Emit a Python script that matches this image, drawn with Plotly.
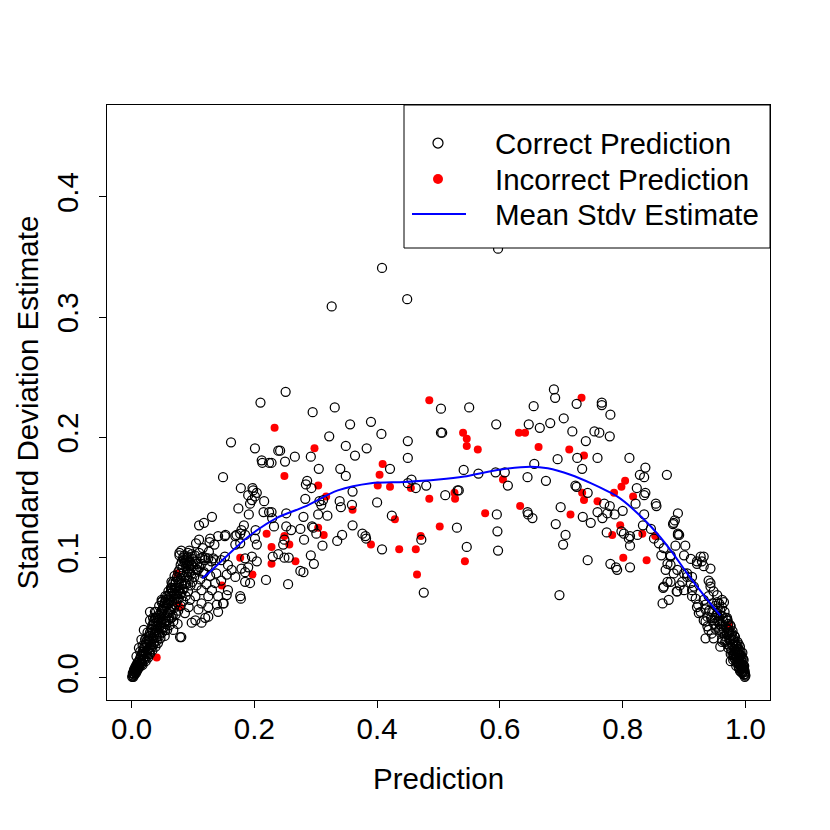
import plotly.graph_objects as go

# open black circles: predictions that were correct (prediction, stdv estimate)
correct = [
    (0.326, 0.309), (0.408, 0.341), (0.449, 0.315), (0.597, 0.357),
    # left shoulder
    (0.210, 0.229), (0.162, 0.196), (0.201, 0.191), (0.239, 0.189), (0.212, 0.181),
    (0.213, 0.179), (0.224, 0.179), (0.149, 0.167), (0.178, 0.158), (0.197, 0.158),
    (0.198, 0.156), (0.190, 0.152), (0.196, 0.148), (0.204, 0.154), (0.201, 0.151),
    (0.193, 0.145), (0.174, 0.141), (0.216, 0.147), (0.215, 0.138), (0.224, 0.138),
    (0.229, 0.133), (0.191, 0.136), (0.131, 0.134), (0.110, 0.127), (0.118, 0.129),
    (0.183, 0.127), (0.179, 0.123), (0.202, 0.123), (0.232, 0.126), (0.141, 0.118),
    (0.153, 0.119), (0.169, 0.118), (0.177, 0.120), (0.128, 0.116), (0.135, 0.111),
    (0.152, 0.118), (0.171, 0.119), (0.185, 0.119), (0.169, 0.111), (0.177, 0.112),
    (0.201, 0.116), (0.204, 0.111), (0.078, 0.104), (0.093, 0.101), (0.095, 0.097),
    (0.112, 0.0995), (0.125, 0.0995), (0.136, 0.098), (0.152, 0.101), (0.185, 0.0995),
    (0.196, 0.101), (0.204, 0.097), (0.190, 0.092), (0.179, 0.091), (0.185, 0.088),
    (0.219, 0.0815), (0.185, 0.080), (0.193, 0.079), (0.169, 0.084), (0.163, 0.090),
    (0.155, 0.086), (0.155, 0.069), (0.150, 0.062), (0.139, 0.061), (0.177, 0.068),
    (0.178, 0.066), (0.120, 0.050), (0.104, 0.048), (0.079, 0.034), (0.030, 0.055),
    (0.030, 0.048), (0.049, 0.065), (0.055, 0.062), (0.066, 0.075), (0.063, 0.070),
    (0.106, 0.090), (0.117, 0.087), (0.098, 0.094), (0.131, 0.073), (0.141, 0.068),
    (0.136, 0.079), (0.125, 0.068), (0.114, 0.073), (0.104, 0.068), (0.093, 0.059),
    (0.087, 0.054), (0.109, 0.057), (0.125, 0.059), (0.114, 0.062), (0.119, 0.098),
    (0.133, 0.0995), (0.146, 0.098), (0.157, 0.094), (0.138, 0.087), (0.146, 0.081),
    (0.157, 0.073), (0.149, 0.062), (0.141, 0.055), (0.125, 0.051), (0.114, 0.046),
    (0.098, 0.046), (0.081, 0.106), (0.092, 0.104), (0.078, 0.102), (0.127, 0.113),
    (0.081, 0.034), (0.065, 0.073), (0.049, 0.063), (0.038, 0.055),
    # dense lower-left band
    (0.001, 0.001), (0.002, 0.002), (0.003, 0.004), (0.004, 0.003), (0.005, 0.006),
    (0.006, 0.005), (0.007, 0.008), (0.008, 0.007), (0.009, 0.010), (0.010, 0.009),
    (0.002, 0.004), (0.004, 0.007), (0.006, 0.009), (0.008, 0.011), (0.010, 0.013),
    (0.003, 0.001), (0.005, 0.003), (0.007, 0.004), (0.009, 0.006), (0.011, 0.008),
    (0.012, 0.010), (0.013, 0.015), (0.014, 0.012), (0.015, 0.018), (0.016, 0.014),
    (0.017, 0.020), (0.018, 0.011), (0.019, 0.016), (0.020, 0.022), (0.021, 0.018),
    (0.022, 0.025), (0.023, 0.014), (0.024, 0.020), (0.025, 0.028), (0.026, 0.023),
    (0.027, 0.017), (0.028, 0.031), (0.029, 0.025), (0.030, 0.020), (0.030, 0.035),
    (0.014, 0.022), (0.018, 0.027), (0.022, 0.032), (0.026, 0.038), (0.024, 0.033),
    (0.032, 0.028), (0.033, 0.040), (0.034, 0.023), (0.035, 0.033), (0.036, 0.045),
    (0.037, 0.030), (0.038, 0.038), (0.039, 0.026), (0.040, 0.042), (0.041, 0.034),
    (0.042, 0.048), (0.043, 0.029), (0.044, 0.038), (0.045, 0.052), (0.046, 0.043),
    (0.047, 0.033), (0.048, 0.046), (0.049, 0.056), (0.050, 0.038), (0.051, 0.049),
    (0.052, 0.042), (0.053, 0.058), (0.054, 0.035), (0.055, 0.051), (0.056, 0.045),
    (0.057, 0.060), (0.058, 0.040), (0.059, 0.054), (0.060, 0.048), (0.035, 0.050),
    (0.040, 0.055), (0.045, 0.060), (0.050, 0.064), (0.061, 0.062), (0.062, 0.044),
    (0.063, 0.055), (0.064, 0.068), (0.065, 0.050), (0.066, 0.060), (0.067, 0.072),
    (0.068, 0.047), (0.069, 0.058), (0.070, 0.066), (0.071, 0.078), (0.072, 0.053),
    (0.073, 0.063), (0.074, 0.070), (0.075, 0.082), (0.076, 0.056), (0.077, 0.066),
    (0.078, 0.075), (0.079, 0.087), (0.080, 0.060), (0.081, 0.070), (0.082, 0.079),
    (0.083, 0.092), (0.084, 0.064), (0.085, 0.074), (0.086, 0.084), (0.087, 0.096),
    (0.088, 0.068), (0.089, 0.078), (0.090, 0.088), (0.091, 0.100), (0.092, 0.072),
    (0.093, 0.082), (0.094, 0.091), (0.095, 0.065), (0.096, 0.077), (0.097, 0.086),
    (0.098, 0.103), (0.099, 0.080), (0.100, 0.093), (0.068, 0.040), (0.075, 0.045),
    (0.102, 0.084), (0.104, 0.097), (0.106, 0.077), (0.108, 0.090), (0.110, 0.104),
    (0.112, 0.082), (0.114, 0.095), (0.116, 0.108), (0.118, 0.088), (0.120, 0.100),
    (0.122, 0.078), (0.124, 0.093), (0.126, 0.105), (0.128, 0.085), (0.130, 0.097),
    (0.105, 0.112), (0.110, 0.115),
    (0.003, 0.002), (0.005, 0.005), (0.007, 0.006), (0.009, 0.008), (0.011, 0.011),
    (0.013, 0.009), (0.015, 0.013), (0.017, 0.012), (0.019, 0.019), (0.021, 0.015),
    (0.023, 0.021), (0.025, 0.018), (0.027, 0.024), (0.029, 0.021), (0.031, 0.030),
    (0.033, 0.026), (0.035, 0.038), (0.037, 0.036), (0.039, 0.046), (0.041, 0.040),
    (0.043, 0.050), (0.045, 0.035), (0.047, 0.054), (0.049, 0.042), (0.051, 0.058),
    (0.053, 0.046), (0.055, 0.040), (0.057, 0.052), (0.059, 0.062), (0.061, 0.050),
    (0.063, 0.065), (0.065, 0.057), (0.067, 0.052), (0.069, 0.070), (0.071, 0.061),
    (0.073, 0.075), (0.075, 0.066), (0.077, 0.079), (0.079, 0.070), (0.081, 0.083),
    (0.083, 0.074), (0.085, 0.088), (0.087, 0.079), (0.089, 0.093), (0.091, 0.084),
    (0.093, 0.097), (0.095, 0.088), (0.097, 0.094), (0.099, 0.099), (0.101, 0.090),
    (0.103, 0.102), (0.107, 0.095), (0.111, 0.092), (0.115, 0.100), (0.070, 0.085),
    (0.065, 0.080), (0.060, 0.072), (0.055, 0.068), (0.085, 0.098), (0.094, 0.106),
    (0.020, 0.040), (0.016, 0.032), (0.012, 0.025), (0.008, 0.018),
    (0.004, 0.005), (0.006, 0.007), (0.008, 0.009), (0.012, 0.013), (0.014, 0.016),
    (0.016, 0.019), (0.018, 0.022), (0.020, 0.025), (0.022, 0.028), (0.024, 0.030),
    (0.026, 0.032), (0.028, 0.035), (0.030, 0.038), (0.032, 0.041), (0.034, 0.044),
    (0.036, 0.047), (0.038, 0.050), (0.040, 0.050), (0.042, 0.044), (0.044, 0.046),
    (0.046, 0.050), (0.048, 0.052), (0.050, 0.055), (0.052, 0.060), (0.054, 0.063),
    (0.056, 0.065), (0.058, 0.068), (0.060, 0.066), (0.062, 0.070), (0.064, 0.075),
    (0.066, 0.078), (0.068, 0.080), (0.070, 0.075), (0.072, 0.080), (0.074, 0.084),
    (0.076, 0.088), (0.078, 0.090), (0.080, 0.094), (0.082, 0.097), (0.084, 0.100),
    (0.086, 0.102), (0.088, 0.098), (0.090, 0.096), (0.092, 0.094), (0.031, 0.024),
    (0.036, 0.028), (0.041, 0.031), (0.046, 0.037), (0.051, 0.041), (0.056, 0.047),
    (0.061, 0.056), (0.066, 0.064), (0.071, 0.069), (0.076, 0.072), (0.081, 0.078),
    # middle
    (0.251, 0.238), (0.295, 0.221), (0.331, 0.225), (0.356, 0.211), (0.390, 0.213),
    (0.322, 0.201), (0.407, 0.203), (0.450, 0.197), (0.504, 0.204), (0.504, 0.224),
    (0.242, 0.189), (0.349, 0.193), (0.383, 0.191), (0.250, 0.180), (0.266, 0.184),
    (0.292, 0.184), (0.364, 0.185), (0.450, 0.183), (0.228, 0.179), (0.305, 0.174),
    (0.340, 0.174), (0.421, 0.174), (0.349, 0.168), (0.286, 0.164), (0.284, 0.161),
    (0.293, 0.158), (0.450, 0.162), (0.456, 0.165), (0.463, 0.158), (0.480, 0.160),
    (0.360, 0.155), (0.283, 0.149), (0.312, 0.148), (0.309, 0.144), (0.306, 0.147),
    (0.339, 0.147), (0.341, 0.142), (0.359, 0.144), (0.400, 0.146), (0.252, 0.137),
    (0.304, 0.136), (0.319, 0.135), (0.280, 0.134), (0.424, 0.135), (0.228, 0.138),
    (0.294, 0.126), (0.296, 0.125), (0.360, 0.127), (0.252, 0.126), (0.260, 0.123),
    (0.275, 0.124), (0.301, 0.120), (0.343, 0.119), (0.376, 0.120), (0.381, 0.118),
    (0.335, 0.114), (0.382, 0.116), (0.408, 0.107), (0.472, 0.115), (0.476, 0.071),
    (0.281, 0.115), (0.311, 0.110), (0.249, 0.115), (0.247, 0.111), (0.230, 0.101),
    (0.239, 0.103), (0.249, 0.100), (0.256, 0.100), (0.292, 0.102), (0.297, 0.095),
    (0.275, 0.089), (0.280, 0.088), (0.255, 0.078),
    # right half
    (0.688, 0.240), (0.690, 0.233), (0.725, 0.228), (0.766, 0.229), (0.766, 0.227),
    (0.550, 0.225), (0.655, 0.226), (0.594, 0.211), (0.647, 0.211), (0.682, 0.212),
    (0.704, 0.216), (0.665, 0.208), (0.718, 0.205), (0.754, 0.205), (0.762, 0.204),
    (0.506, 0.204), (0.740, 0.197), (0.726, 0.183), (0.759, 0.183), (0.694, 0.182),
    (0.656, 0.178), (0.734, 0.174), (0.541, 0.173), (0.565, 0.170), (0.593, 0.171),
    (0.608, 0.171), (0.613, 0.160), (0.645, 0.167), (0.675, 0.164), (0.723, 0.160),
    (0.725, 0.159), (0.743, 0.154), (0.531, 0.156), (0.533, 0.156), (0.511, 0.152),
    (0.595, 0.136), (0.645, 0.138), (0.646, 0.136), (0.653, 0.133), (0.699, 0.142),
    (0.735, 0.134), (0.759, 0.138), (0.748, 0.129), (0.691, 0.128), (0.530, 0.125),
    (0.596, 0.122), (0.707, 0.119), (0.703, 0.111), (0.546, 0.109), (0.597, 0.106),
    (0.743, 0.098), (0.697, 0.069),
    (0.780, 0.219), (0.779, 0.201), (0.811, 0.183), (0.837, 0.175), (0.828, 0.169),
    (0.835, 0.167), (0.872, 0.169), (0.823, 0.158), (0.837, 0.154), (0.835, 0.152),
    (0.821, 0.145), (0.770, 0.145), (0.779, 0.143), (0.775, 0.137), (0.767, 0.133),
    (0.787, 0.136), (0.800, 0.139), (0.854, 0.145), (0.855, 0.143), (0.835, 0.136),
    (0.890, 0.137), (0.885, 0.131), (0.882, 0.128), (0.833, 0.127), (0.798, 0.122),
    (0.846, 0.124), (0.774, 0.121), (0.812, 0.118), (0.824, 0.119), (0.890, 0.119),
    (0.812, 0.110), (0.780, 0.095), (0.789, 0.092), (0.791, 0.090), (0.812, 0.092),
    (0.802, 0.120), (0.810, 0.116),
    # right band
    (0.851, 0.116), (0.859, 0.112), (0.863, 0.102), (0.886, 0.110), (0.902, 0.110),
    (0.878, 0.102), (0.883, 0.129), (0.892, 0.119), (0.867, 0.108), (0.878, 0.101),
    (0.900, 0.102), (0.873, 0.095), (0.878, 0.094), (0.870, 0.090), (0.883, 0.087),
    (0.889, 0.090), (0.927, 0.101), (0.929, 0.097), (0.921, 0.095), (0.932, 0.093),
    (0.943, 0.091), (0.900, 0.087), (0.905, 0.084), (0.897, 0.080), (0.911, 0.079),
    (0.867, 0.076), (0.873, 0.080), (0.889, 0.072), (0.865, 0.062), (0.875, 0.065),
    (0.900, 0.073), (0.916, 0.076), (0.913, 0.073), (0.940, 0.081), (0.943, 0.076),
    (0.948, 0.072), (0.954, 0.069), (0.940, 0.068), (0.932, 0.065), (0.919, 0.066),
    (0.921, 0.059), (0.924, 0.054), (0.935, 0.057), (0.946, 0.062), (0.954, 0.063),
    (0.962, 0.065), (0.932, 0.048), (0.938, 0.043), (0.946, 0.048), (0.954, 0.054),
    (0.970, 0.050), (0.962, 0.045), (0.951, 0.041), (0.935, 0.033), (0.957, 0.040),
    (0.962, 0.032), (0.959, 0.026), (0.976, 0.043), (0.973, 0.037), (0.976, 0.014),
    (0.913, 0.068), (0.923, 0.061), (0.927, 0.055), (0.935, 0.061), (0.965, 0.063),
    (0.962, 0.059), (0.946, 0.055), (0.938, 0.051), (0.935, 0.047), (0.954, 0.047),
    (0.959, 0.041), (0.948, 0.033), (0.962, 0.030), (0.970, 0.048), (0.932, 0.101),
    (0.911, 0.099), (0.921, 0.097), (0.905, 0.087), (0.913, 0.084), (0.943, 0.079),
    (0.888, 0.072), (0.893, 0.077), (0.866, 0.075), (0.878, 0.080), (0.890, 0.120),
    # dense lower-right tail
    (0.950, 0.050), (0.955, 0.058), (0.958, 0.045), (0.960, 0.052), (0.962, 0.038),
    (0.964, 0.047), (0.966, 0.055), (0.967, 0.030), (0.968, 0.042), (0.970, 0.036),
    (0.971, 0.048), (0.972, 0.025), (0.973, 0.040), (0.974, 0.032), (0.975, 0.044),
    (0.976, 0.020), (0.977, 0.035), (0.978, 0.028), (0.979, 0.039), (0.980, 0.015),
    (0.981, 0.031), (0.982, 0.024), (0.983, 0.034), (0.984, 0.018), (0.985, 0.027),
    (0.986, 0.021), (0.987, 0.030), (0.988, 0.012), (0.989, 0.024), (0.990, 0.017),
    (0.991, 0.026), (0.992, 0.010), (0.993, 0.019), (0.994, 0.014), (0.995, 0.021),
    (0.996, 0.008), (0.997, 0.015), (0.998, 0.010), (0.999, 0.005), (1.000, 0.002),
    (0.999, 0.001), (0.998, 0.003), (0.997, 0.006), (0.996, 0.011), (0.995, 0.004),
    (0.994, 0.008), (0.993, 0.012), (0.992, 0.015), (0.991, 0.006), (0.990, 0.020),
    (0.989, 0.009), (0.988, 0.022), (0.987, 0.014), (0.986, 0.026), (0.985, 0.010),
    (0.984, 0.023), (0.983, 0.016), (0.982, 0.029), (0.981, 0.020), (0.980, 0.033),
    (0.951, 0.060), (0.953, 0.052), (0.956, 0.048), (0.957, 0.062), (0.959, 0.056),
    (0.961, 0.043), (0.963, 0.051), (0.965, 0.040), (0.966, 0.035), (0.968, 0.050),
    (0.969, 0.031), (0.970, 0.041), (0.971, 0.028), (0.972, 0.045), (0.974, 0.038),
    (0.975, 0.026), (0.976, 0.033), (0.977, 0.023), (0.978, 0.037), (0.979, 0.019),
    (0.980, 0.028), (0.981, 0.017), (0.982, 0.035), (0.983, 0.021), (0.984, 0.029),
    (0.985, 0.013), (0.986, 0.017), (0.987, 0.024), (0.988, 0.016), (0.989, 0.028),
    (0.990, 0.012), (0.991, 0.019), (0.992, 0.022), (0.993, 0.008), (0.994, 0.017),
    (0.995, 0.011), (0.996, 0.016), (0.997, 0.009), (0.998, 0.007), (0.999, 0.003),
    (0.997, 0.003), (0.996, 0.005), (0.993, 0.005), (0.990, 0.008), (0.944, 0.050),
    (0.941, 0.056), (0.949, 0.045), (0.945, 0.037), (0.940, 0.040),
]

# filled red dots: incorrect predictions
incorrect = [
    (0.041, 0.017), (0.074, 0.087), (0.076, 0.061), (0.079, 0.059), (0.147, 0.077),
    (0.177, 0.100), (0.197, 0.086), (0.220, 0.120), (0.228, 0.109), (0.228, 0.095),
    (0.233, 0.208), (0.298, 0.191), (0.249, 0.168), (0.304, 0.160), (0.317, 0.151),
    (0.360, 0.140), (0.429, 0.132), (0.304, 0.125), (0.313, 0.119), (0.249, 0.118),
    (0.257, 0.111), (0.267, 0.097), (0.390, 0.111), (0.436, 0.107), (0.463, 0.107),
    (0.471, 0.118), (0.465, 0.086), (0.409, 0.178), (0.404, 0.169), (0.401, 0.160),
    (0.421, 0.159), (0.455, 0.158), (0.485, 0.149), (0.485, 0.231), (0.502, 0.126),
    (0.733, 0.233), (0.631, 0.204), (0.641, 0.204), (0.540, 0.204), (0.546, 0.199),
    (0.546, 0.193), (0.564, 0.190), (0.663, 0.192), (0.713, 0.190), (0.737, 0.185),
    (0.605, 0.165), (0.734, 0.154), (0.737, 0.148), (0.759, 0.147), (0.526, 0.154),
    (0.527, 0.149), (0.633, 0.143), (0.576, 0.137), (0.715, 0.136), (0.543, 0.097),
    (0.804, 0.164), (0.798, 0.159), (0.786, 0.154), (0.817, 0.151), (0.796, 0.127),
    (0.783, 0.119), (0.832, 0.120), (0.853, 0.118), (0.801, 0.100), (0.839, 0.098),
    (0.973, 0.043),
]

# mean stdv estimate curve
curve_x = [0.115, 0.125, 0.150, 0.190, 0.236, 0.282, 0.336, 0.390, 0.444, 0.500,
           0.542, 0.596, 0.650, 0.678, 0.715, 0.748, 0.791, 0.818, 0.846, 0.878,
           0.905, 0.932, 0.959]
curve_y = [0.083, 0.087, 0.099, 0.1175, 0.133, 0.1425, 0.156, 0.162, 0.163, 0.165,
           0.1675, 0.173, 0.1757, 0.1744, 0.169, 0.162, 0.151, 0.140, 0.126, 0.1064,
           0.087, 0.069, 0.052]

x_ticks = [0.0, 0.2, 0.4, 0.6, 0.8, 1.0]
y_ticks = [0.0, 0.1, 0.2, 0.3, 0.4]

FONT = "Liberation Sans, Arial, Helvetica, sans-serif"
FS = 29.5

fig = go.Figure()

# red first, so the dense black clusters partly cover them as in the original
fig.add_trace(go.Scatter(
    x=[p[0] for p in incorrect], y=[p[1] for p in incorrect],
    mode="markers", name="Incorrect Prediction",
    marker=dict(symbol="circle", size=8, color="#ff0000"),
))
fig.add_trace(go.Scatter(
    x=[p[0] for p in correct], y=[p[1] for p in correct],
    mode="markers", name="Correct Prediction",
    marker=dict(symbol="circle-open", size=9, color="black", line=dict(width=1.25)),
))
fig.add_trace(go.Scatter(
    x=curve_x, y=curve_y, mode="lines", name="Mean Stdv Estimate",
    line=dict(color="#0000ff", width=2, shape="spline", smoothing=0.8),
))

# --- hand drawn legend box (R style); pixel positions are screen pixels ---
def px_x(p):
    return (p - 107) / 663

def px_y(p):
    return (700 - p) / 595

fig.add_shape(type="rect", xref="paper", yref="paper",
              x0=px_x(404), x1=1, y0=px_y(248), y1=1,
              line=dict(color="black", width=1), fillcolor="white", layer="above")
fig.add_shape(type="circle", xref="paper", yref="paper",
              xsizemode="pixel", ysizemode="pixel",
              xanchor=px_x(438), yanchor=px_y(143),
              x0=-5, x1=5, y0=-5, y1=5,
              line=dict(color="black", width=1.25), layer="above")
fig.add_shape(type="circle", xref="paper", yref="paper",
              xsizemode="pixel", ysizemode="pixel",
              xanchor=px_x(438), yanchor=px_y(179),
              x0=-5, x1=5, y0=-5, y1=5,
              line=dict(color="#ff0000", width=0), fillcolor="#ff0000", layer="above")
fig.add_shape(type="line", xref="paper", yref="paper",
              x0=px_x(412), x1=px_x(466), y0=px_y(214), y1=px_y(214),
              line=dict(color="#0000ff", width=2), layer="above")
for label, yy in [("Correct Prediction", 143), ("Incorrect Prediction", 179),
                  ("Mean Stdv Estimate", 214)]:
    fig.add_annotation(x=px_x(493), y=px_y(yy), xref="paper", yref="paper",
                       text=label, showarrow=False, xanchor="left", yanchor="middle",
                       font=dict(size=FS, color="black", family=FONT))

# axis titles
fig.add_annotation(x=0.5, y=px_y(778), xref="paper", yref="paper", text="Prediction",
                   showarrow=False, xanchor="center", yanchor="middle",
                   font=dict(size=FS, color="black", family=FONT))
fig.add_annotation(x=px_x(27), y=0.5, xref="paper", yref="paper",
                   text="Standard Deviation Estimate", textangle=-90,
                   showarrow=False, xanchor="center", yanchor="middle",
                   font=dict(size=FS, color="black", family=FONT))

# the page body adds an 8px offset, so margins are trimmed by 8 on left/top
fig.update_layout(
    width=830, height=830,
    margin=dict(l=99, r=68, t=97, b=138),
    paper_bgcolor="white", plot_bgcolor="white",
    showlegend=False,
    font=dict(family=FONT, size=FS, color="black"),
)
fig.update_xaxes(
    range=[-0.04, 1.04], tickvals=x_ticks, ticktext=[f"{v:.1f}" for v in x_ticks],
    ticks="outside", ticklen=7, tickwidth=1, tickcolor="black", ticklabelstandoff=-4,
    showline=True, mirror=True, linecolor="black", linewidth=1,
    showgrid=False, zeroline=False, tickfont=dict(size=FS),
)
fig.update_yaxes(
    range=[-0.0183, 0.4765], tickvals=y_ticks, ticktext=[f"{v:.1f}" for v in y_ticks],
    ticks="outside", ticklen=7, tickwidth=1, tickcolor="black", tickangle=-90,
    ticklabelstandoff=9,
    showline=True, mirror=True, linecolor="black", linewidth=1,
    showgrid=False, zeroline=False, tickfont=dict(size=FS),
)

fig.write_html("out.html")
